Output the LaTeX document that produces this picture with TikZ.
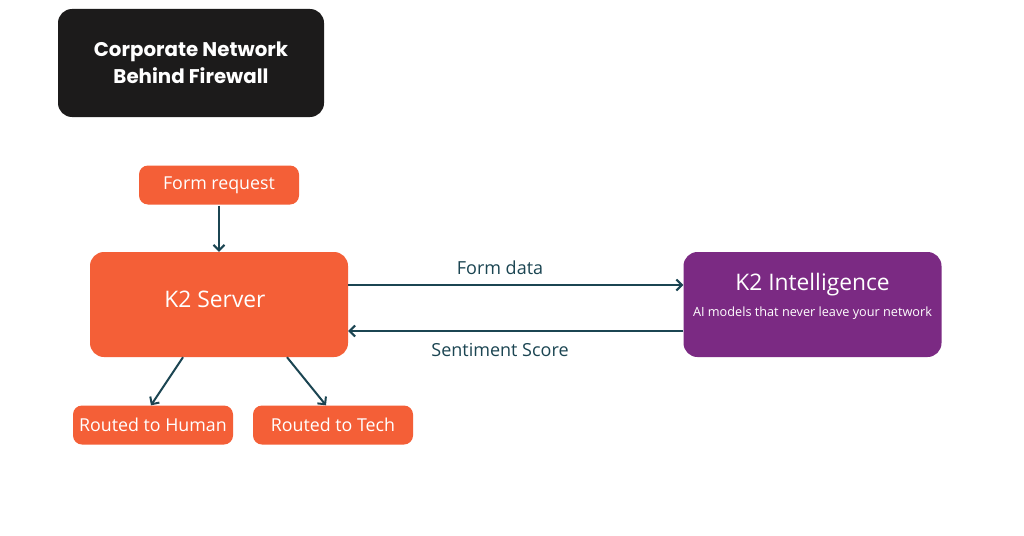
\documentclass[tikz,border=0pt]{standalone}
\usepackage{fontspec}
\setmainfont{Open Sans}
\newfontfamily\boldfont{Poppins}
\usetikzlibrary{arrows.meta}
\definecolor{k2orange}{HTML}{F45F37}
\definecolor{k2purple}{HTML}{7B2A83}
\definecolor{k2black}{HTML}{1C1B1B}
\definecolor{k2line}{HTML}{1B4552}
\tikzset{
  smallbox/.style={fill=k2orange, rounded corners=9pt, text=white, minimum width=160pt, minimum height=39pt, inner sep=0pt, font=\fontsize{17.8}{20}\selectfont},
  bigbox/.style={rounded corners=14pt, text=white, minimum width=258pt, minimum height=105pt, inner sep=0pt},
  conn/.style={draw=k2line, line width=2pt, -{Straight Barb[length=5.5pt,width=11pt,line width=2pt]}},
  lbl/.style={text=k2line, font=\fontsize{18}{20}\selectfont}
}
\begin{document}
\begin{tikzpicture}[x=1pt,y=-1pt]
\useasboundingbox (0,0) rectangle (1024,535);
\fill[white] (0,0) rectangle (1024,535);
% black title box
\node[fill=k2black, rounded corners=14pt, minimum width=266pt, minimum height=108pt, text=white, align=center, font=\boldfont\bfseries\fontsize{19.8}{27}\selectfont] (title) at (191,63) {Corporate Network\\Behind Firewall};
% boxes
\node[smallbox] (req) at (219,185) {Form request};
\node[bigbox, fill=k2orange] (srv) at (219,304.5) {};
\node[text=white, font=\fontsize{22.8}{26}\selectfont] (srvt) at (215,299.5) {K2 Server};
\node[smallbox] (hum) at (153,425) {Routed to Human};
\node[smallbox] (tech) at (333,425) {Routed to Tech};
\node[bigbox, fill=k2purple] (ki) at (812.5,304.5) {};
\node[text=white, font=\fontsize{22.8}{26}\selectfont] (kit) at (812.5,285) {K2 Intelligence};
\node[text=white, font=\fontsize{12.7}{14}\selectfont] (kisub) at (812.5,313.5) {AI models that never leave your network};
% connectors
\draw[conn] (req.south) ++(0,1) -- (srv.north);
\draw[conn] ([yshift=19.5pt]srv.east) -- ([yshift=19.5pt]ki.west);
\draw[conn] ([yshift=-26.5pt]ki.west) -- ([yshift=-26.5pt]srv.east);
\node[lbl] (fdl) at (500,268) {Form data};
\node[lbl] (ssl) at (500,350) {Sentiment Score};
\draw[conn] ([xshift=-36pt]srv.south) -- ([xshift=-2pt]hum.north);
\draw[conn] ([xshift=68pt]srv.south) -- ([xshift=-7pt]tech.north);
\end{tikzpicture}
\end{document}
